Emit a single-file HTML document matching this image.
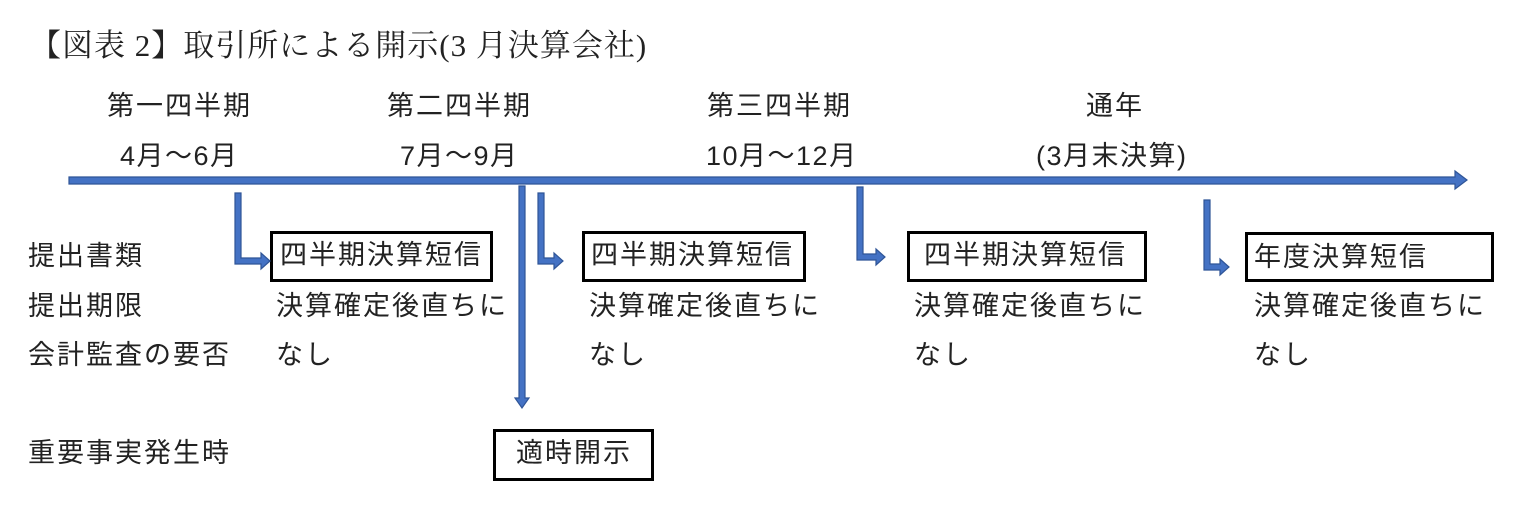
<!DOCTYPE html>
<html><head><meta charset="utf-8"><style>
body{margin:0;width:1524px;height:516px;background:#fff;position:relative;overflow:hidden;font-family:"Liberation Sans","Noto Sans CJK JP",sans-serif;color:#222}
.t{position:absolute;font-size:27px;line-height:1;white-space:nowrap;letter-spacing:2px;top:0}
.b{position:absolute;border:3px solid #000;box-sizing:border-box}
</style></head><body>
<div class="t" style="left:30px;top:30px;font-size:31px;font-family:'Liberation Serif','Noto Serif CJK SC',serif;letter-spacing:1px">【図表 2】取引所による開示(3 月決算会社)</div>
<div class="t" style="left:107px;top:93px">第一四半期</div>
<div class="t" style="left:387px;top:93px">第二四半期</div>
<div class="t" style="left:707px;top:93px">第三四半期</div>
<div class="t" style="left:1086px;top:93px">通年</div>
<div class="t" style="left:120px;top:143px;letter-spacing:1.5px">4月～6月</div>
<div class="t" style="left:400px;top:143px;letter-spacing:1.5px">7月～9月</div>
<div class="t" style="left:706px;top:143px;letter-spacing:1.5px">10月～12月</div>
<div class="t" style="left:1036px;top:143px;letter-spacing:1.5px">(3月末決算)</div>
<div class="t" style="left:28px;top:243px">提出書類</div>
<div class="t" style="left:28px;top:293px">提出期限</div>
<div class="t" style="left:28px;top:342px">会計監査の要否</div>
<div class="t" style="left:28px;top:440px">重要事実発生時</div>
<div class="b" style="left:270px;top:231px;width:223px;height:51px"></div>
<div class="b" style="left:582px;top:231px;width:224px;height:51px"></div>
<div class="b" style="left:907px;top:231px;width:240px;height:51px"></div>
<div class="b" style="left:1245px;top:232px;width:249px;height:50px"></div>
<div class="b" style="left:493px;top:429px;width:161px;height:52px"></div>
<div class="t" style="left:280px;top:242px">四半期決算短信</div>
<div class="t" style="left:591px;top:242px">四半期決算短信</div>
<div class="t" style="left:924px;top:242px">四半期決算短信</div>
<div class="t" style="left:1254px;top:244px">年度決算短信</div>
<div class="t" style="left:516px;top:440px">適時開示</div>
<div class="t" style="left:276px;top:293px">決算確定後直ちに</div>
<div class="t" style="left:589px;top:293px">決算確定後直ちに</div>
<div class="t" style="left:914px;top:293px">決算確定後直ちに</div>
<div class="t" style="left:1254px;top:293px">決算確定後直ちに</div>
<div class="t" style="left:276px;top:342px">なし</div>
<div class="t" style="left:589px;top:342px">なし</div>
<div class="t" style="left:914px;top:342px">なし</div>
<div class="t" style="left:1254px;top:342px">なし</div>
<svg width="1524" height="516" style="position:absolute;left:0;top:0" fill="#4472c4" stroke="#2f5597" stroke-width="1.2">
<polygon points="69,177 1455,177 1455,171 1467,180 1455,189 1455,184 69,184"/>
<polygon points="519,186 525,186 525,398 529,398 522,408 515,398 519,398"/>
<polygon points="235,193 241,193 241,258 261,258 261,253 270,261 261,269 261,264 235,264"/>
<polygon points="538,193 544,193 544,258 554,258 554,253 563,261 554,269 554,264 538,264"/>
<polygon points="857,187 863,187 863,254 876,254 876,249 885,257 876,265 876,260 857,260"/>
<polygon points="1204,200 1210,200 1210,264 1220,264 1220,259 1229,267 1220,275 1220,270 1204,270"/>
</svg>
</body></html>
